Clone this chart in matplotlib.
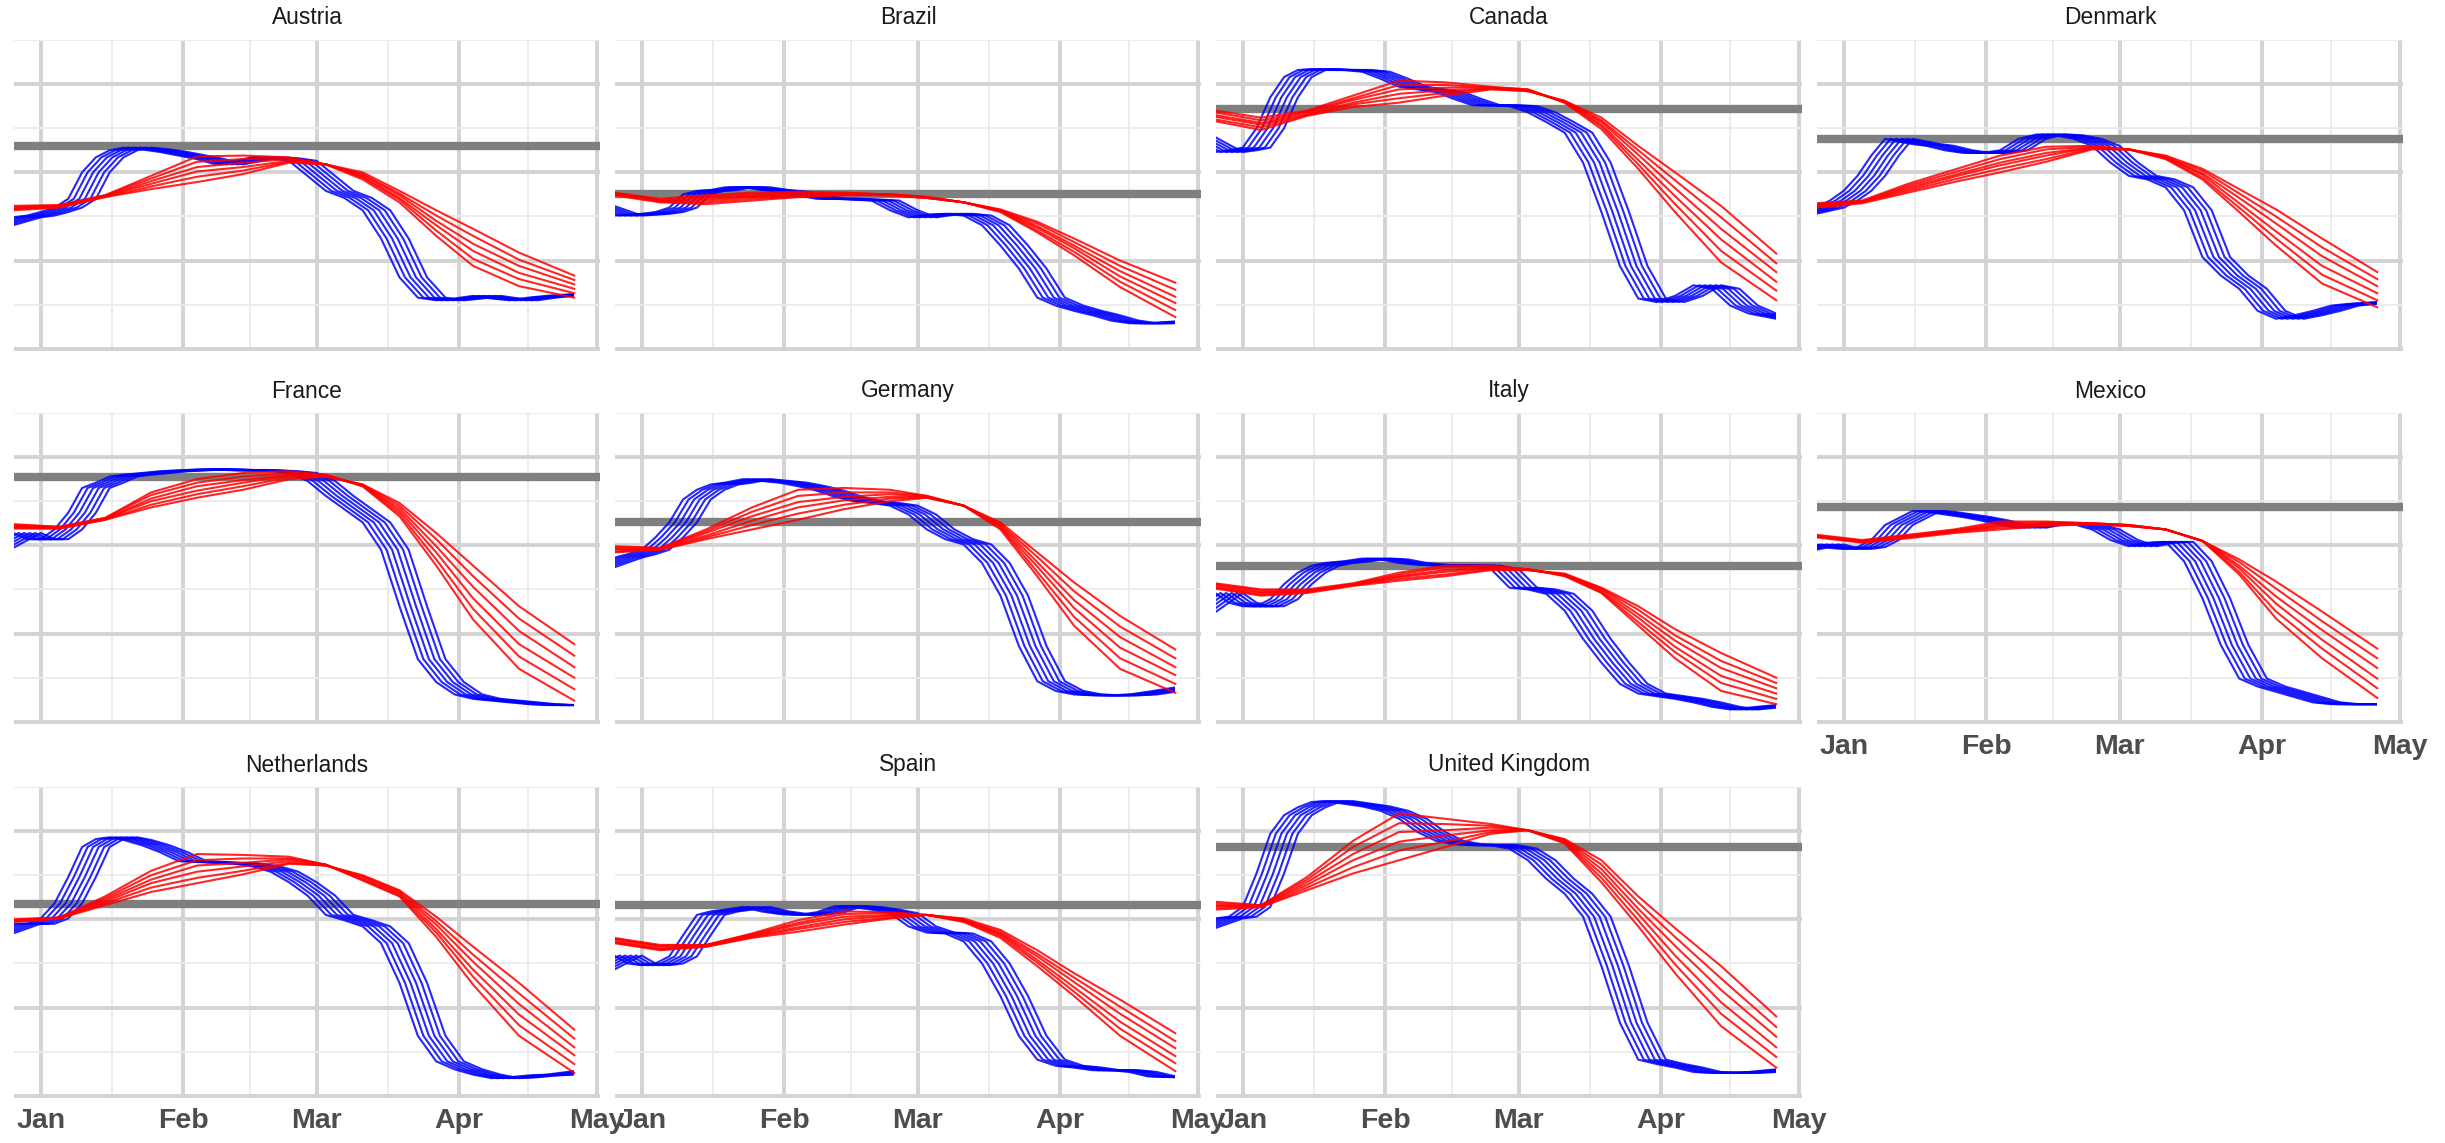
import numpy as np
import matplotlib.pyplot as plt
from matplotlib.patches import Rectangle

plt.rcParams['font.family'] = ['Liberation Sans', 'DejaVu Sans']

# x is days since 1 Jan 2020, y is the (unlabelled) index value
BLUE_DAYS = [-12, -6, -3, 0, 3, 6, 9, 12, 15, 18, 22, 26, 30, 34, 38, 42, 46, 50, 54,
             58, 62, 66, 70, 74, 78, 82, 86, 90, 94, 98, 102, 106, 110, 116]
BLUE_LAGS = [0, 1.2, 2.4, 3.6, 4.8, 6.0]
RED_DAYS = [-6, 4, 14, 24, 34, 44, 54, 62, 70, 78, 86, 94, 104, 116]

MONTH_DAYS = [0, 31, 60, 91, 121]
MONTH_LABELS = ['Jan', 'Feb', 'Mar', 'Apr', 'May']

COUNTRIES = ['Austria', 'Brazil', 'Canada', 'Denmark', 'France', 'Germany',
             'Italy', 'Mexico', 'Netherlands', 'Spain', 'United Kingdom']
BASELINE = [2.30, 1.75, 2.72, 2.38, 2.77, 2.27, 1.77, 2.44, 2.17, 2.16, 2.82]

AUSTRIA_BLUE = [1.40, 1.49, 1.51, 1.55, 1.60, 1.70, 2.00, 2.17, 2.25, 2.28, 2.26, 2.23, 2.19, 2.15, 2.09, 2.13, 2.17,
                2.16, 2.13, 1.96, 1.79, 1.71, 1.57, 1.25, 0.81, 0.58, 0.55, 0.57, 0.60, 0.57, 0.55, 0.58, 0.60, 0.62]
AUSTRIA_RED = [
    [1.62, 1.63, 1.74, 1.96, 2.18, 2.19, 2.17, 2.09, 1.92, 1.66, 1.28, 0.94, 0.71, 0.58],
    [1.61, 1.62, 1.74, 1.93, 2.12, 2.15, 2.16, 2.09, 1.94, 1.69, 1.34, 1.02, 0.79, 0.63],
    [1.60, 1.62, 1.73, 1.90, 2.06, 2.11, 2.15, 2.09, 1.95, 1.71, 1.40, 1.11, 0.86, 0.68],
    [1.59, 1.61, 1.73, 1.87, 2.01, 2.06, 2.13, 2.09, 1.97, 1.74, 1.45, 1.19, 0.94, 0.73],
    [1.58, 1.61, 1.72, 1.84, 1.95, 2.02, 2.12, 2.09, 1.98, 1.76, 1.51, 1.28, 1.01, 0.78],
    [1.57, 1.60, 1.72, 1.81, 1.89, 1.98, 2.11, 2.09, 2.00, 1.79, 1.57, 1.36, 1.09, 0.83],
]

BRAZIL_BLUE = [1.62, 1.51, 1.52, 1.53, 1.55, 1.60, 1.75, 1.79, 1.80, 1.83, 1.83, 1.80, 1.78, 1.74, 1.70, 1.70, 1.69,
               1.68, 1.57, 1.49, 1.52, 1.53, 1.51, 1.40, 1.17, 0.91, 0.58, 0.49, 0.43, 0.38, 0.32, 0.29, 0.29, 0.31]
BRAZIL_RED = [
    [1.77, 1.70, 1.74, 1.77, 1.78, 1.77, 1.75, 1.72, 1.66, 1.55, 1.32, 1.06, 0.70, 0.36],
    [1.76, 1.69, 1.72, 1.75, 1.77, 1.76, 1.75, 1.72, 1.66, 1.56, 1.34, 1.10, 0.76, 0.44],
    [1.76, 1.68, 1.70, 1.73, 1.76, 1.76, 1.75, 1.72, 1.66, 1.56, 1.37, 1.14, 0.82, 0.52],
    [1.75, 1.68, 1.68, 1.72, 1.74, 1.75, 1.74, 1.71, 1.66, 1.57, 1.39, 1.17, 0.88, 0.59],
    [1.75, 1.67, 1.66, 1.70, 1.73, 1.75, 1.74, 1.71, 1.66, 1.57, 1.42, 1.21, 0.94, 0.67],
    [1.74, 1.66, 1.64, 1.68, 1.72, 1.74, 1.74, 1.71, 1.66, 1.58, 1.44, 1.25, 1.00, 0.75],
]

CANADA_BLUE = [2.40, 2.23, 2.25, 2.28, 2.50, 2.85, 3.08, 3.16, 3.17, 3.16, 3.16, 3.14, 3.06, 2.97, 2.94, 2.91, 2.83,
               2.76, 2.76, 2.75, 2.68, 2.57, 2.45, 2.11, 1.55, 0.94, 0.57, 0.53, 0.60, 0.72, 0.68, 0.49, 0.40, 0.34]
CANADA_RED = [
    [2.70, 2.62, 2.70, 2.87, 3.04, 3.02, 2.97, 2.94, 2.79, 2.49, 2.04, 1.55, 0.98, 0.55],
    [2.68, 2.59, 2.69, 2.84, 2.99, 2.99, 2.96, 2.94, 2.79, 2.52, 2.09, 1.64, 1.11, 0.66],
    [2.65, 2.56, 2.68, 2.82, 2.94, 2.96, 2.96, 2.93, 2.80, 2.54, 2.14, 1.73, 1.24, 0.76],
    [2.63, 2.54, 2.66, 2.79, 2.89, 2.93, 2.95, 2.93, 2.80, 2.57, 2.20, 1.82, 1.36, 0.87],
    [2.60, 2.51, 2.65, 2.77, 2.84, 2.90, 2.95, 2.92, 2.81, 2.59, 2.25, 1.91, 1.49, 0.97],
    [2.58, 2.48, 2.64, 2.74, 2.79, 2.87, 2.94, 2.92, 2.81, 2.62, 2.30, 2.00, 1.62, 1.08],
]

DENMARK_BLUE = [1.53, 1.60, 1.68, 1.79, 1.96, 2.19, 2.38, 2.35, 2.32, 2.30, 2.25, 2.22, 2.22, 2.25, 2.38, 2.43, 2.42,
                2.38, 2.30, 2.11, 1.96, 1.92, 1.83, 1.57, 1.04, 0.83, 0.68, 0.43, 0.34, 0.38, 0.43, 0.49, 0.51, 0.53]
DENMARK_RED = [
    [1.65, 1.68, 1.87, 2.03, 2.19, 2.29, 2.30, 2.26, 2.15, 1.92, 1.55, 1.17, 0.74, 0.47],
    [1.64, 1.67, 1.85, 2.00, 2.15, 2.26, 2.29, 2.26, 2.16, 1.94, 1.60, 1.25, 0.84, 0.55],
    [1.63, 1.67, 1.83, 1.97, 2.11, 2.22, 2.28, 2.26, 2.17, 1.97, 1.65, 1.33, 0.94, 0.63],
    [1.62, 1.66, 1.81, 1.95, 2.08, 2.19, 2.28, 2.26, 2.17, 1.99, 1.71, 1.42, 1.05, 0.71],
    [1.61, 1.66, 1.79, 1.92, 2.04, 2.15, 2.27, 2.26, 2.18, 2.02, 1.76, 1.50, 1.15, 0.79],
    [1.60, 1.65, 1.77, 1.89, 2.00, 2.12, 2.26, 2.26, 2.19, 2.04, 1.81, 1.58, 1.25, 0.87],
]

FRANCE_BLUE = [1.97, 2.14, 2.07, 2.07, 2.18, 2.37, 2.65, 2.71, 2.78, 2.80, 2.82, 2.84, 2.85, 2.86, 2.86, 2.85, 2.85,
               2.84, 2.82, 2.73, 2.56, 2.41, 2.26, 1.95, 1.31, 0.71, 0.45, 0.31, 0.26, 0.24, 0.22, 0.20, 0.19, 0.19]
FRANCE_RED = [
    [2.24, 2.21, 2.31, 2.60, 2.75, 2.82, 2.84, 2.80, 2.67, 2.33, 1.77, 1.16, 0.60, 0.24],
    [2.23, 2.21, 2.31, 2.57, 2.71, 2.78, 2.82, 2.80, 2.67, 2.36, 1.84, 1.28, 0.74, 0.37],
    [2.22, 2.20, 2.30, 2.53, 2.67, 2.74, 2.80, 2.79, 2.68, 2.39, 1.92, 1.40, 0.88, 0.50],
    [2.21, 2.20, 2.30, 2.50, 2.62, 2.71, 2.79, 2.79, 2.68, 2.42, 1.99, 1.53, 1.03, 0.62],
    [2.20, 2.19, 2.29, 2.46, 2.58, 2.67, 2.77, 2.78, 2.69, 2.45, 2.07, 1.65, 1.17, 0.75],
    [2.19, 2.19, 2.29, 2.43, 2.54, 2.63, 2.75, 2.78, 2.69, 2.48, 2.14, 1.77, 1.31, 0.88],
]

GERMANY_BLUE = [1.75, 1.86, 1.90, 1.95, 2.09, 2.26, 2.52, 2.63, 2.69, 2.71, 2.75, 2.73, 2.71, 2.67, 2.62, 2.55, 2.50,
                2.48, 2.45, 2.35, 2.18, 2.07, 2.01, 1.80, 1.43, 0.86, 0.46, 0.35, 0.31, 0.30, 0.30, 0.31, 0.34, 0.39]
GERMANY_RED = [
    [1.99, 1.97, 2.18, 2.43, 2.63, 2.65, 2.63, 2.56, 2.45, 2.18, 1.65, 1.09, 0.60, 0.33],
    [1.98, 1.97, 2.16, 2.38, 2.56, 2.60, 2.60, 2.56, 2.45, 2.20, 1.70, 1.19, 0.72, 0.43],
    [1.96, 1.96, 2.14, 2.33, 2.49, 2.55, 2.58, 2.55, 2.45, 2.21, 1.76, 1.29, 0.84, 0.53],
    [1.95, 1.96, 2.11, 2.28, 2.43, 2.51, 2.55, 2.55, 2.45, 2.23, 1.81, 1.38, 0.96, 0.62],
    [1.93, 1.95, 2.09, 2.23, 2.36, 2.46, 2.53, 2.54, 2.45, 2.24, 1.87, 1.48, 1.08, 0.72],
    [1.92, 1.95, 2.07, 2.18, 2.29, 2.41, 2.50, 2.54, 2.45, 2.26, 1.92, 1.58, 1.20, 0.82],
]

ITALY_BLUE = [1.24, 1.46, 1.35, 1.31, 1.31, 1.39, 1.56, 1.69, 1.77, 1.80, 1.82, 1.85, 1.84, 1.80, 1.78, 1.77, 1.77,
              1.77, 1.73, 1.52, 1.50, 1.45, 1.26, 0.94, 0.67, 0.43, 0.32, 0.29, 0.26, 0.22, 0.17, 0.14, 0.16, 0.19]
ITALY_RED = [
    [1.57, 1.50, 1.50, 1.57, 1.69, 1.77, 1.77, 1.73, 1.65, 1.46, 1.09, 0.72, 0.35, 0.20],
    [1.56, 1.49, 1.49, 1.56, 1.67, 1.75, 1.76, 1.73, 1.66, 1.47, 1.13, 0.79, 0.44, 0.26],
    [1.55, 1.47, 1.48, 1.56, 1.65, 1.72, 1.75, 1.73, 1.66, 1.48, 1.18, 0.85, 0.52, 0.32],
    [1.53, 1.46, 1.48, 1.55, 1.64, 1.70, 1.74, 1.72, 1.67, 1.50, 1.22, 0.92, 0.61, 0.38],
    [1.52, 1.44, 1.47, 1.55, 1.62, 1.67, 1.73, 1.72, 1.67, 1.51, 1.27, 0.98, 0.69, 0.44],
    [1.51, 1.43, 1.46, 1.54, 1.60, 1.65, 1.72, 1.72, 1.68, 1.52, 1.31, 1.05, 0.78, 0.50],
]

MEXICO_BLUE = [1.95, 2.01, 1.97, 1.96, 1.98, 2.06, 2.23, 2.31, 2.39, 2.38, 2.35, 2.32, 2.28, 2.23, 2.20, 2.24, 2.25,
               2.24, 2.18, 2.06, 1.99, 2.03, 2.04, 1.82, 1.40, 0.87, 0.49, 0.40, 0.34, 0.28, 0.22, 0.20, 0.20, 0.20]
MEXICO_RED = [
    [2.12, 2.06, 2.12, 2.18, 2.27, 2.27, 2.25, 2.23, 2.18, 2.05, 1.67, 1.17, 0.72, 0.27],
    [2.11, 2.05, 2.11, 2.17, 2.25, 2.26, 2.25, 2.23, 2.18, 2.05, 1.70, 1.25, 0.83, 0.38],
    [2.11, 2.05, 2.10, 2.16, 2.23, 2.25, 2.25, 2.23, 2.18, 2.05, 1.74, 1.34, 0.93, 0.49],
    [2.10, 2.04, 2.10, 2.16, 2.22, 2.24, 2.24, 2.22, 2.18, 2.05, 1.77, 1.42, 1.04, 0.61],
    [2.10, 2.04, 2.09, 2.15, 2.20, 2.23, 2.24, 2.22, 2.18, 2.05, 1.81, 1.51, 1.14, 0.72],
    [2.09, 2.03, 2.08, 2.14, 2.18, 2.22, 2.24, 2.22, 2.18, 2.05, 1.84, 1.59, 1.25, 0.83],
]

NETHERLANDS_BLUE = [1.84, 1.95, 1.95, 2.01, 2.18, 2.48, 2.82, 2.91, 2.93, 2.90, 2.84, 2.76, 2.66, 2.65, 2.64, 2.63,
                    2.60, 2.54, 2.42, 2.27, 2.05, 1.99, 1.92, 1.73, 1.28, 0.68, 0.39, 0.30, 0.24, 0.20, 0.21, 0.23,
                    0.24, 0.28]
NETHERLANDS_RED = [
    [2.00, 2.02, 2.26, 2.55, 2.74, 2.73, 2.71, 2.62, 2.44, 2.26, 1.80, 1.26, 0.68, 0.26],
    [1.99, 2.02, 2.24, 2.50, 2.67, 2.69, 2.69, 2.62, 2.45, 2.27, 1.85, 1.35, 0.80, 0.36],
    [1.99, 2.02, 2.22, 2.45, 2.61, 2.64, 2.68, 2.62, 2.46, 2.29, 1.89, 1.43, 0.92, 0.46],
    [1.98, 2.01, 2.20, 2.41, 2.54, 2.60, 2.66, 2.61, 2.48, 2.30, 1.94, 1.52, 1.04, 0.55],
    [1.98, 2.01, 2.18, 2.36, 2.47, 2.55, 2.64, 2.61, 2.49, 2.32, 1.98, 1.60, 1.16, 0.65],
    [1.97, 2.01, 2.16, 2.31, 2.41, 2.51, 2.63, 2.61, 2.50, 2.33, 2.03, 1.69, 1.28, 0.75],
]

SPAIN_BLUE = [1.43, 1.59, 1.50, 1.48, 1.50, 1.58, 1.82, 2.05, 2.09, 2.11, 2.14, 2.09, 2.06, 2.05, 2.08, 2.15, 2.14,
              2.11, 2.07, 1.92, 1.85, 1.84, 1.75, 1.50, 1.13, 0.68, 0.41, 0.34, 0.32, 0.29, 0.29, 0.27, 0.22, 0.21]
SPAIN_RED = [
    [1.79, 1.71, 1.71, 1.84, 1.99, 2.09, 2.08, 2.05, 1.97, 1.79, 1.47, 1.13, 0.68, 0.28],
    [1.78, 1.70, 1.71, 1.83, 1.96, 2.06, 2.07, 2.05, 1.98, 1.81, 1.51, 1.18, 0.76, 0.37],
    [1.77, 1.69, 1.70, 1.82, 1.94, 2.03, 2.05, 2.05, 1.99, 1.83, 1.54, 1.23, 0.84, 0.45],
    [1.75, 1.67, 1.70, 1.81, 1.91, 2.00, 2.04, 2.05, 1.99, 1.84, 1.58, 1.29, 0.93, 0.54],
    [1.74, 1.66, 1.69, 1.80, 1.89, 1.97, 2.02, 2.05, 2.00, 1.86, 1.61, 1.34, 1.01, 0.62],
    [1.73, 1.65, 1.69, 1.79, 1.86, 1.94, 2.01, 2.05, 2.01, 1.88, 1.65, 1.39, 1.09, 0.71],
]

UK_BLUE = [1.90, 2.01, 2.03, 2.14, 2.52, 2.97, 3.18, 3.27, 3.33, 3.34, 3.31, 3.28, 3.23, 3.14, 2.99, 2.89, 2.85,
           2.84, 2.84, 2.80, 2.67, 2.46, 2.29, 2.03, 1.47, 0.83, 0.41, 0.36, 0.32, 0.27, 0.26, 0.26, 0.27, 0.30]
UK_RED = [
    [2.20, 2.16, 2.48, 2.89, 3.20, 3.14, 3.08, 3.01, 2.86, 2.42, 1.92, 1.39, 0.79, 0.32],
    [2.18, 2.16, 2.45, 2.82, 3.09, 3.08, 3.06, 3.01, 2.87, 2.47, 1.99, 1.49, 0.93, 0.44],
    [2.16, 2.15, 2.42, 2.74, 2.99, 3.01, 3.04, 3.01, 2.88, 2.52, 2.06, 1.59, 1.06, 0.55],
    [2.15, 2.15, 2.39, 2.67, 2.88, 2.95, 3.01, 3.01, 2.89, 2.57, 2.12, 1.70, 1.20, 0.67],
    [2.13, 2.14, 2.36, 2.59, 2.78, 2.88, 2.99, 3.01, 2.90, 2.62, 2.19, 1.80, 1.33, 0.78],
    [2.11, 2.14, 2.33, 2.52, 2.67, 2.82, 2.97, 3.01, 2.91, 2.67, 2.26, 1.90, 1.47, 0.90],
]

BLUE_SERIES = [AUSTRIA_BLUE, BRAZIL_BLUE, CANADA_BLUE, DENMARK_BLUE, FRANCE_BLUE, GERMANY_BLUE,
               ITALY_BLUE, MEXICO_BLUE, NETHERLANDS_BLUE, SPAIN_BLUE, UK_BLUE]
RED_SERIES = [AUSTRIA_RED, BRAZIL_RED, CANADA_RED, DENMARK_RED, FRANCE_RED, GERMANY_RED,
              ITALY_RED, MEXICO_RED, NETHERLANDS_RED, SPAIN_RED, UK_RED]

W, H = 2445, 1143
COL_LEFT = [14, 615, 1216, 1817]
ROW_TOP = [40, 413, 787]
PANEL_W, PANEL_H = 586, 311
X_MIN, X_MAX = -5.8, 121.6


def draw_panel(ax, name, grey, blue, red, show_labels):
    ax.set_xlim(X_MIN, X_MAX)
    ax.set_ylim(-0.025, 3.5)

    ax.set_xticks(MONTH_DAYS)
    ax.set_xticks([15.5, 45.5, 75.5, 106], minor=True)
    ax.set_yticks([0, 1, 2, 3])
    ax.set_yticks([0.5, 1.5, 2.5, 3.5], minor=True)
    ax.grid(which='major', color='#d3d3d3', lw=2.8)
    ax.grid(which='minor', color='#ebebeb', lw=1.3)
    ax.set_axisbelow(True)
    ax.tick_params(which='both', length=0)
    ax.set_yticklabels([])
    for s in ax.spines.values():
        s.set_visible(False)

    if show_labels:
        ax.set_xticklabels(MONTH_LABELS, fontsize=20.5, fontweight='bold', color='#4d4d4d')
        ax.tick_params(axis='x', pad=7)
    else:
        ax.set_xticklabels([])

    ax.axhline(grey, color='#7f7f7f', lw=6, zorder=2)

    # the lagged copies share the panel's left edge and the last date
    end_clip = Rectangle((X_MIN, -0.025), RED_DAYS[-1] - X_MIN, 3.6, transform=ax.transData)
    for lag in BLUE_LAGS:
        line, = ax.plot(np.array(BLUE_DAYS) + lag, blue, color='#0000ff', lw=1.5, alpha=0.85, zorder=3)
        line.set_clip_path(end_clip)
    for row in red:
        ax.plot(RED_DAYS, row, color='#ff0000', lw=1.5, alpha=0.85, zorder=4)

    ax.text(0.5, 1 + 22 / PANEL_H, name, transform=ax.transAxes, ha='center', va='center',
            fontsize=16.4, color='#1a1a1a')


fig = plt.figure(figsize=(W / 100, H / 100), dpi=100)

for i, name in enumerate(COUNTRIES):
    r, c = divmod(i, 4)
    rect = [COL_LEFT[c] / W, 1 - (ROW_TOP[r] + PANEL_H) / H, PANEL_W / W, PANEL_H / H]
    ax = fig.add_axes(rect)
    show = r == 2 or (r == 1 and c == 3)
    draw_panel(ax, name, BASELINE[i], BLUE_SERIES[i], RED_SERIES[i], show)

fig.savefig('out.png', dpi=100, facecolor='white')
